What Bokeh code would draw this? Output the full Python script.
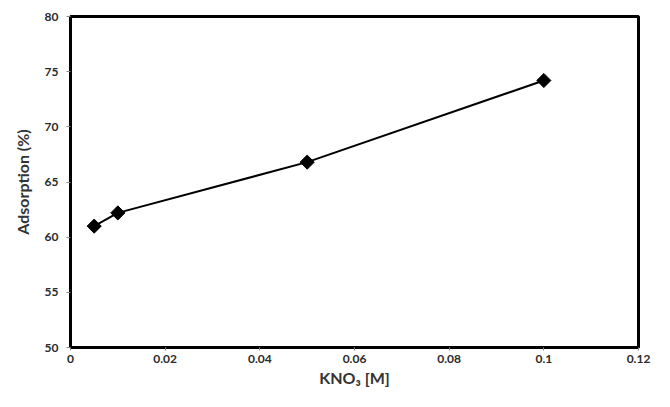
import math
from bokeh.plotting import figure
from bokeh.models import Range1d, FixedTicker
from bokeh.embed import file_html
from bokeh.resources import INLINE

kno3 = [0.005, 0.01, 0.05, 0.1]
adsorption = [61.0, 62.2, 66.8, 74.2]
x_ticks = [0, 0.02, 0.04, 0.06, 0.08, 0.1, 0.12]
x_labels = {0: "0", 0.02: "0.02", 0.04: "0.04", 0.06: "0.06", 0.08: "0.08", 0.1: "0.1", 0.12: "0.12"}
y_ticks = [50, 55, 60, 65, 70, 75, 80]

p = figure(width=654, height=391, output_backend="svg", toolbar_location=None,
           x_range=Range1d(0, 0.12), y_range=Range1d(50, 80),
           min_border_left=70, min_border_right=16, min_border_top=16, min_border_bottom=44)
p.grid.visible = False
p.outline_line_color = "black"
p.outline_line_width = 3
p.background_fill_color = "white"
p.border_fill_color = "white"

p.line(kno3, adsorption, line_color="black", line_width=2)
p.scatter(kno3, adsorption, marker="square", angle=math.pi / 4, size=10,
          fill_color="black", line_color="black")

p.xaxis.ticker = FixedTicker(ticks=x_ticks)
p.xaxis.major_label_overrides = x_labels
p.yaxis.ticker = FixedTicker(ticks=y_ticks)
for ax in (p.xaxis[0], p.yaxis[0]):
    ax.axis_line_color = "black"
    ax.axis_line_width = 3
    ax.major_tick_line_color = "#888888"
    ax.major_tick_out = 4
    ax.major_tick_in = 0
    ax.minor_tick_line_color = None
    ax.major_label_text_font = "Lato"
    ax.major_label_text_font_style = "bold"
    ax.major_label_text_font_size = "12px"
    ax.major_label_text_color = "#2a2a2a"
    ax.axis_label_text_font = "Lato"
    ax.axis_label_text_font_style = "bold"
    ax.axis_label_text_font_size = "16px"
    ax.axis_label_text_color = "#333333"

p.xaxis.axis_label = "KNO\u2083 [M]"
p.yaxis.axis_label = "Adsorption (%)"
p.xaxis.major_tick_out = 3
p.xaxis.major_label_standoff = 4
p.yaxis.major_label_standoff = 8
p.xaxis.axis_label_standoff = 2
p.yaxis.axis_label_standoff = 10

open("out.html", "w").write(file_html(p, INLINE))
